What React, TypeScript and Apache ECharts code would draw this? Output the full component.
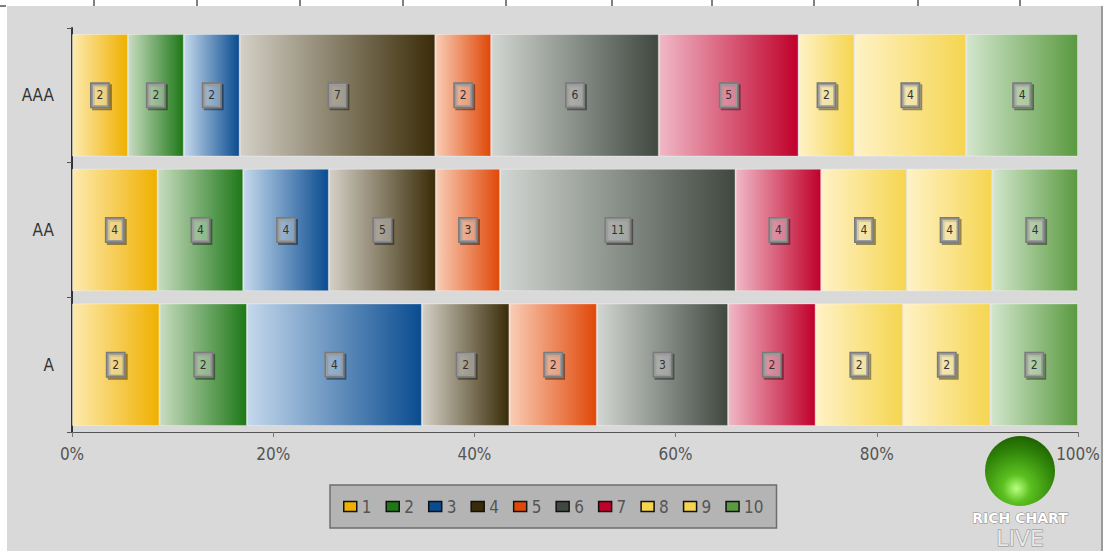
import React, { useEffect, useRef } from "react";
import * as echarts from "echarts";

const categories = ["A", "AA", "AAA"];
const seriesNames = ["1", "2", "3", "4", "5", "6", "7", "8", "9", "10"];
// counts per series, ordered as categories (A, AA, AAA)
const s1 = [2, 4, 2];
const s2 = [2, 4, 2];
const s3 = [4, 4, 2];
const s4 = [2, 5, 7];
const s5 = [2, 3, 2];
const s6 = [3, 11, 6];
const s7 = [2, 4, 5];
const s8 = [2, 4, 2];
const s9 = [2, 4, 4];
const s10 = [2, 4, 4];
const allSeries = [s1, s2, s3, s4, s5, s6, s7, s8, s9, s10];
const xTicks = [0, 20, 40, 60, 80, 100];

const lightColors = ["#fdeaae", "#c8dcc0", "#c4d8ec", "#d4d0c6", "#f9cdb6", "#d2d6d2", "#f0b8c6", "#fff2c6", "#fff2c6", "#d2e6cc"];
const darkColors = ["#f0b000", "#1e7818", "#0a4c90", "#3a2c08", "#e04808", "#404840", "#c0002a", "#f5d550", "#f5d550", "#5a9a40"];

const FONT = "'DejaVu Sans Condensed','Liberation Sans Narrow','Noto Sans',sans-serif";

export default function App() {
  const ref = useRef<HTMLDivElement>(null);
  useEffect(() => {
    if (!ref.current) return;
    const chart = echarts.init(ref.current, undefined, { renderer: "svg" });
    const totals = categories.map((_, ci) => allSeries.reduce((a, s) => a + s[ci], 0));

    const series = allSeries.map((vals, si) => ({
      name: seriesNames[si],
      type: "bar",
      stack: "total",
      barCategoryGap: "9%",
      itemStyle: {
        color: new echarts.graphic.LinearGradient(0, 0, 1, 0, [
          { offset: 0, color: lightColors[si] },
          { offset: 1, color: darkColors[si] },
        ]),
        borderColor: "rgba(255,255,255,0.35)",
        borderWidth: 1,
      },
      label: {
        show: true,
        position: "inside",
        formatter: (p: any) => String(p.data.raw),
        fontFamily: FONT,
        fontSize: 12,
        color: "#333",
        backgroundColor: "rgba(255,255,255,0.25)",
        borderColor: "#7a7a7a",
        borderWidth: 1.5,
        padding: [6, 5, 5, 5],
        shadowColor: "rgba(0,0,0,0.4)",
        shadowOffsetX: 2,
        shadowOffsetY: 2,
        shadowBlur: 1,
      },
      data: vals.map((v, ci) => ({ value: (v / totals[ci]) * 100, raw: v })),
    }));

    const topTicks = [94, 197, 300, 403, 506, 612, 712, 814, 918, 1020];

    chart.setOption({
      animation: false,
      backgroundColor: "#ffffff",
      graphic: [
        { type: "rect", z: -10, silent: true, shape: { x: 7, y: 6, width: 1094, height: 545 }, style: { fill: "#d9d9d9" } },
        { type: "rect", z: -10, silent: true, shape: { x: 1101, y: 6, width: 2, height: 545 }, style: { fill: "#9a9a9a" } },
        { type: "line", silent: true, shape: { x1: 0, y1: 6, x2: 6, y2: 6 }, style: { stroke: "#000", lineWidth: 1 } },
        ...topTicks.map((x) => ({ type: "line", silent: true, shape: { x1: x, y1: 0, x2: x, y2: 6 }, style: { stroke: "#000", lineWidth: 1 } })),
        {
          type: "circle",
          silent: true,
          shape: { cx: 1020, cy: 471, r: 35 },
          style: {
            fill: new echarts.graphic.RadialGradient(0.45, 0.75, 0.8, [
              { offset: 0, color: "#b8ff80" },
              { offset: 0.25, color: "#5cc020" },
              { offset: 0.7, color: "#2e8208" },
              { offset: 1, color: "#1c5a00" },
            ]),
          },
        },
        {
          type: "text",
          silent: true,
          x: 1020,
          y: 518,
          style: { text: "RICH CHART", fontFamily: "DejaVu Sans", fontWeight: "bold", fontSize: 14, fill: "#ffffff", stroke: "#888", lineWidth: 1, align: "center", verticalAlign: "middle" },
        },
        {
          type: "text",
          silent: true,
          x: 1020,
          y: 538,
          style: { text: "LIVE", fontFamily: "DejaVu Sans", fontSize: 22, fill: "#e8e8e8", stroke: "#888", lineWidth: 1, align: "center", verticalAlign: "middle" },
        },
      ],
      grid: { left: 72, right: 29, top: 28, bottom: 119, containLabel: false },
      legend: {
        left: 330,
        top: 485,
        backgroundColor: "#b4b4b4",
        borderColor: "#6e6e6e",
        borderWidth: 1.5,
        padding: [13, 13, 13, 13],
        itemWidth: 13,
        itemHeight: 10,
        itemGap: 14,
        icon: "rect",
        textStyle: { fontFamily: FONT, fontSize: 17, color: "#555" },
        data: seriesNames.map((n, i) => ({ name: n, itemStyle: { color: darkColors[i], borderColor: "#111", borderWidth: 1.5 } })),
      },
      xAxis: {
        type: "value",
        min: 0,
        max: 100,
        interval: 20,
        axisLine: { show: true, lineStyle: { color: "#555", width: 1 } },
        axisTick: { show: true, length: 5, lineStyle: { color: "#777" } },
        splitLine: { show: false },
        axisLabel: {
          formatter: (v: number) => (xTicks.includes(v) ? v + "%" : ""),
          fontFamily: FONT,
          fontSize: 17,
          color: "#555",
          margin: 13,
        },
      },
      yAxis: {
        type: "category",
        data: categories,
        axisLine: { show: true, lineStyle: { color: "#333", width: 2 } },
        axisTick: { show: true, length: 5, lineStyle: { color: "#555" } },
        splitLine: {
          show: true,
          lineStyle: { color: "#c2c2c2", width: 9, shadowColor: "rgba(0,0,0,0.5)", shadowBlur: 3 },
        },
        axisLabel: { fontFamily: FONT, fontSize: 17, color: "#333", margin: 18 },
      },
      series,
    });
    return () => chart.dispose();
  }, []);
  return <div ref={ref} style={{ position: "fixed", left: 0, top: 0, width: 1107, height: 551 }} />;
}
